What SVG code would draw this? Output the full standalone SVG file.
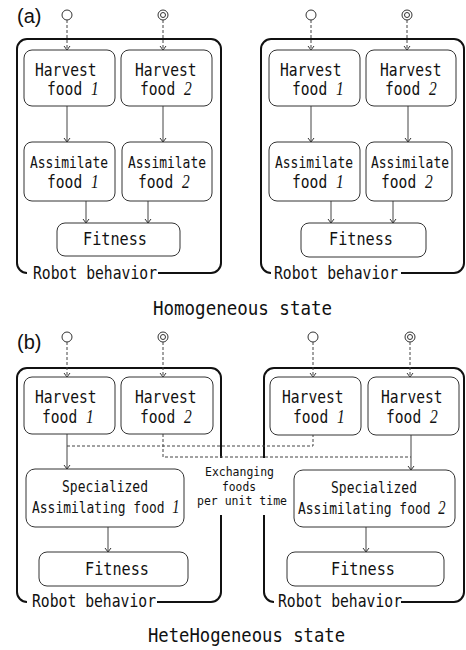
<svg xmlns="http://www.w3.org/2000/svg" width="466" height="650" viewBox="0 0 466 650">
<style>
.frame{fill:none;stroke:#111;stroke-width:2}
.box{fill:#fff;stroke:#333;stroke-width:1}
.t{font-family:"DejaVu Sans Mono","Liberation Mono",monospace;font-size:17px;fill:#111}
.ts{font-size:16px}
.tx{font-size:12.5px}
.tt{font-size:19px}
.num{font-family:"Liberation Serif",serif;font-style:italic;font-size:18px}
.ln{fill:none;stroke:#444;stroke-width:1}
.dash{stroke-dasharray:3 2}
.lbl{font-family:"Liberation Sans",Arial,sans-serif;font-size:20px;fill:#111}
.circ{fill:#fff;stroke:#333;stroke-width:1}
</style>
<defs>
<marker id="ah" markerUnits="userSpaceOnUse" markerWidth="10" markerHeight="10" viewBox="-5 -5 10 10" refX="0" refY="0" orient="auto" overflow="visible">
<path d="M-4,-3 L0,0 L-4,3" fill="none" stroke="#333" stroke-width="1"/>
</marker>
</defs>
<rect width="466" height="650" fill="#fff"/>

<!-- Panel labels and titles -->
<text class="lbl" x="17" y="23">(a)</text>
<text class="lbl" x="17" y="349">(b)</text>
<text class="t tt" x="153" y="315" textLength="179" lengthAdjust="spacingAndGlyphs">Homogeneous state</text>
<text class="t tt" x="148" y="642" textLength="197" lengthAdjust="spacingAndGlyphs">HeteHogeneous state</text>

<!-- Frames -->
<g id="frame-a-left">
<path class="frame" d="M158,273 H211 A10,10 0 0 0 221,263 V49 A10,10 0 0 0 211,39 H27 A10,10 0 0 0 17,49 V263 A10,10 0 0 0 27,273"/>
<text class="t" x="33" y="279" textLength="124" lengthAdjust="spacingAndGlyphs">Robot behavior</text>
</g>
<g id="frame-a-right">
<path class="frame" d="M401,273 H454 A10,10 0 0 0 464,263 V49 A10,10 0 0 0 454,39 H271 A10,10 0 0 0 261,49 V263 A10,10 0 0 0 271,273"/>
<text class="t" x="274" y="279" textLength="124" lengthAdjust="spacingAndGlyphs">Robot behavior</text>
</g>
<g id="frame-b-left">
<path class="frame" d="M157,602 H211 A10,10 0 0 0 221,592 V515 M221,458 V378 A10,10 0 0 0 211,368 H27 A10,10 0 0 0 17,378 V592 A10,10 0 0 0 27,602"/>
<text class="t" x="32" y="607" textLength="124" lengthAdjust="spacingAndGlyphs">Robot behavior</text>
</g>
<g id="frame-b-right">
<path class="frame" d="M401,602 H454 A10,10 0 0 0 464,592 V378 A10,10 0 0 0 454,368 H274 A10,10 0 0 0 264,378 V458 M264,515 V592 A10,10 0 0 0 274,602"/>
<text class="t" x="278" y="607" textLength="124" lengthAdjust="spacingAndGlyphs">Robot behavior</text>
</g>

<!-- Connectors -->
<g id="connectors">
<path class="ln dash" d="M67,20 V50" marker-end="url(#ah)"/>
<path class="ln dash" d="M163,20 V50" marker-end="url(#ah)"/>
<path class="ln" d="M67,106 V142" marker-end="url(#ah)"/>
<path class="ln" d="M163,106 V142" marker-end="url(#ah)"/>
<path class="ln" d="M86,201 V223" marker-end="url(#ah)"/>
<path class="ln" d="M148,201 V223" marker-end="url(#ah)"/>

<path class="ln dash" d="M311,20 V50" marker-end="url(#ah)"/>
<path class="ln dash" d="M407,20 V50" marker-end="url(#ah)"/>
<path class="ln" d="M311,106 V142" marker-end="url(#ah)"/>
<path class="ln" d="M408,106 V142" marker-end="url(#ah)"/>
<path class="ln" d="M331,201 V223" marker-end="url(#ah)"/>
<path class="ln" d="M393,201 V223" marker-end="url(#ah)"/>

<path class="ln dash" d="M67,342 V377" marker-end="url(#ah)"/>
<path class="ln dash" d="M163,342 V377" marker-end="url(#ah)"/>
<path class="ln dash" d="M313,342 V377" marker-end="url(#ah)"/>
<path class="ln dash" d="M410,342 V377" marker-end="url(#ah)"/>
<path class="ln" d="M67,434 V469" marker-end="url(#ah)"/>
<path class="ln" d="M411,435 V470" marker-end="url(#ah)"/>
<path class="ln dash" d="M67,446 H313 V435"/>
<path class="ln dash" d="M163,434 V457 H411"/>
<path class="ln" d="M108,527 V552" marker-end="url(#ah)"/>
<path class="ln" d="M366,527 V552" marker-end="url(#ah)"/>
<text class="t tx" x="205" y="476" textLength="69" lengthAdjust="spacingAndGlyphs">Exchanging</text>
<text class="t tx" x="222" y="491" textLength="34" lengthAdjust="spacingAndGlyphs">foods</text>
<text class="t tx" x="197" y="505" textLength="90" lengthAdjust="spacingAndGlyphs">per unit time</text>
</g>

<!-- Food sources -->
<g id="src-a-1"><circle class="circ" cx="67" cy="15" r="5"/></g>
<g id="src-a-2"><circle class="circ" cx="163" cy="15" r="5"/><circle class="circ" cx="163" cy="15" r="2.5"/></g>
<g id="src-a-3"><circle class="circ" cx="311" cy="15" r="5"/></g>
<g id="src-a-4"><circle class="circ" cx="407" cy="15" r="5"/><circle class="circ" cx="407" cy="15" r="2.5"/></g>
<g id="src-b-1"><circle class="circ" cx="67" cy="337" r="5"/></g>
<g id="src-b-2"><circle class="circ" cx="163" cy="337" r="5"/><circle class="circ" cx="163" cy="337" r="2.5"/></g>
<g id="src-b-3"><circle class="circ" cx="313" cy="337" r="5"/></g>
<g id="src-b-4"><circle class="circ" cx="410" cy="337" r="5"/><circle class="circ" cx="410" cy="337" r="2.5"/></g>

<!-- (a) left -->
<g id="a-l-harvest1">
<rect class="box" x="24" y="50" width="91" height="56" rx="8"/>
<text class="t" x="35" y="76" textLength="61.6" lengthAdjust="spacingAndGlyphs">Harvest</text>
<text class="t" transform="translate(47,95) scale(0.86,1)">food <tspan class="num">1</tspan></text>
</g>
<g id="a-l-harvest2">
<rect class="box" x="121" y="50" width="91" height="56" rx="8"/>
<text class="t" x="135" y="76" textLength="61.6" lengthAdjust="spacingAndGlyphs">Harvest</text>
<text class="t" transform="translate(140,95) scale(0.86,1)">food <tspan class="num">2</tspan></text>
</g>
<g id="a-l-assim1">
<rect class="box" x="24" y="142" width="91" height="59" rx="8"/>
<text class="t ts" x="30" y="168" textLength="78" lengthAdjust="spacingAndGlyphs">Assimilate</text>
<text class="t" transform="translate(47,188) scale(0.86,1)">food <tspan class="num">1</tspan></text>
</g>
<g id="a-l-assim2">
<rect class="box" x="122" y="142" width="90" height="59" rx="8"/>
<text class="t ts" x="128" y="168" textLength="78" lengthAdjust="spacingAndGlyphs">Assimilate</text>
<text class="t" transform="translate(138,188) scale(0.86,1)">food <tspan class="num">2</tspan></text>
</g>
<g id="a-l-fitness">
<rect class="box" x="57" y="223" width="123" height="33" rx="8"/>
<text class="t" x="83" y="245" textLength="64" lengthAdjust="spacingAndGlyphs">Fitness</text>
</g>

<!-- (a) right -->
<g id="a-r-harvest1">
<rect class="box" x="269" y="50" width="91" height="56" rx="8"/>
<text class="t" x="280" y="76" textLength="61.6" lengthAdjust="spacingAndGlyphs">Harvest</text>
<text class="t" transform="translate(292,95) scale(0.86,1)">food <tspan class="num">1</tspan></text>
</g>
<g id="a-r-harvest2">
<rect class="box" x="366" y="50" width="90" height="56" rx="8"/>
<text class="t" x="380" y="76" textLength="61.6" lengthAdjust="spacingAndGlyphs">Harvest</text>
<text class="t" transform="translate(385,95) scale(0.86,1)">food <tspan class="num">2</tspan></text>
</g>
<g id="a-r-assim1">
<rect class="box" x="269" y="142" width="91" height="59" rx="8"/>
<text class="t ts" x="275" y="168" textLength="78" lengthAdjust="spacingAndGlyphs">Assimilate</text>
<text class="t" transform="translate(292,188) scale(0.86,1)">food <tspan class="num">1</tspan></text>
</g>
<g id="a-r-assim2">
<rect class="box" x="366" y="142" width="86" height="59" rx="8"/>
<text class="t ts" x="371" y="168" textLength="78" lengthAdjust="spacingAndGlyphs">Assimilate</text>
<text class="t" transform="translate(381,188) scale(0.86,1)">food <tspan class="num">2</tspan></text>
</g>
<g id="a-r-fitness">
<rect class="box" x="301" y="223" width="125" height="34" rx="8"/>
<text class="t" x="329" y="245" textLength="64" lengthAdjust="spacingAndGlyphs">Fitness</text>
</g>

<!-- (b) left -->
<g id="b-l-harvest1">
<rect class="box" x="24" y="377" width="91" height="57" rx="8"/>
<text class="t" x="35" y="403" textLength="61.6" lengthAdjust="spacingAndGlyphs">Harvest</text>
<text class="t" transform="translate(42,423) scale(0.86,1)">food <tspan class="num">1</tspan></text>
</g>
<g id="b-l-harvest2">
<rect class="box" x="121" y="377" width="92" height="57" rx="8"/>
<text class="t" x="135" y="403" textLength="61.6" lengthAdjust="spacingAndGlyphs">Harvest</text>
<text class="t" transform="translate(140,423) scale(0.86,1)">food <tspan class="num">2</tspan></text>
</g>
<g id="b-l-spec">
<rect class="box" x="26" y="469" width="158" height="58" rx="9"/>
<text class="t ts" x="62" y="492" textLength="86" lengthAdjust="spacingAndGlyphs">Specialized</text>
<text class="t ts" transform="translate(32,513) scale(0.81,1)">Assimilating food <tspan class="num">1</tspan></text>
</g>
<g id="b-l-fitness">
<rect class="box" x="39" y="552" width="149" height="34" rx="8"/>
<text class="t" x="85" y="575" textLength="64" lengthAdjust="spacingAndGlyphs">Fitness</text>
</g>

<!-- (b) right -->
<g id="b-r-harvest1">
<rect class="box" x="270" y="377" width="91" height="58" rx="8"/>
<text class="t" x="282" y="403" textLength="61.6" lengthAdjust="spacingAndGlyphs">Harvest</text>
<text class="t" transform="translate(293,423) scale(0.86,1)">food <tspan class="num">1</tspan></text>
</g>
<g id="b-r-harvest2">
<rect class="box" x="368" y="377" width="91" height="58" rx="8"/>
<text class="t" x="381" y="403" textLength="61.6" lengthAdjust="spacingAndGlyphs">Harvest</text>
<text class="t" transform="translate(386,423) scale(0.86,1)">food <tspan class="num">2</tspan></text>
</g>
<g id="b-r-spec">
<rect class="box" x="294" y="470" width="161" height="57" rx="9"/>
<text class="t ts" x="331" y="493" textLength="86" lengthAdjust="spacingAndGlyphs">Specialized</text>
<text class="t ts" transform="translate(298,514) scale(0.81,1)">Assimilating food <tspan class="num">2</tspan></text>
</g>
<g id="b-r-fitness">
<rect class="box" x="287" y="552" width="157" height="34" rx="8"/>
<text class="t" x="331" y="575" textLength="64" lengthAdjust="spacingAndGlyphs">Fitness</text>
</g>
</svg>
